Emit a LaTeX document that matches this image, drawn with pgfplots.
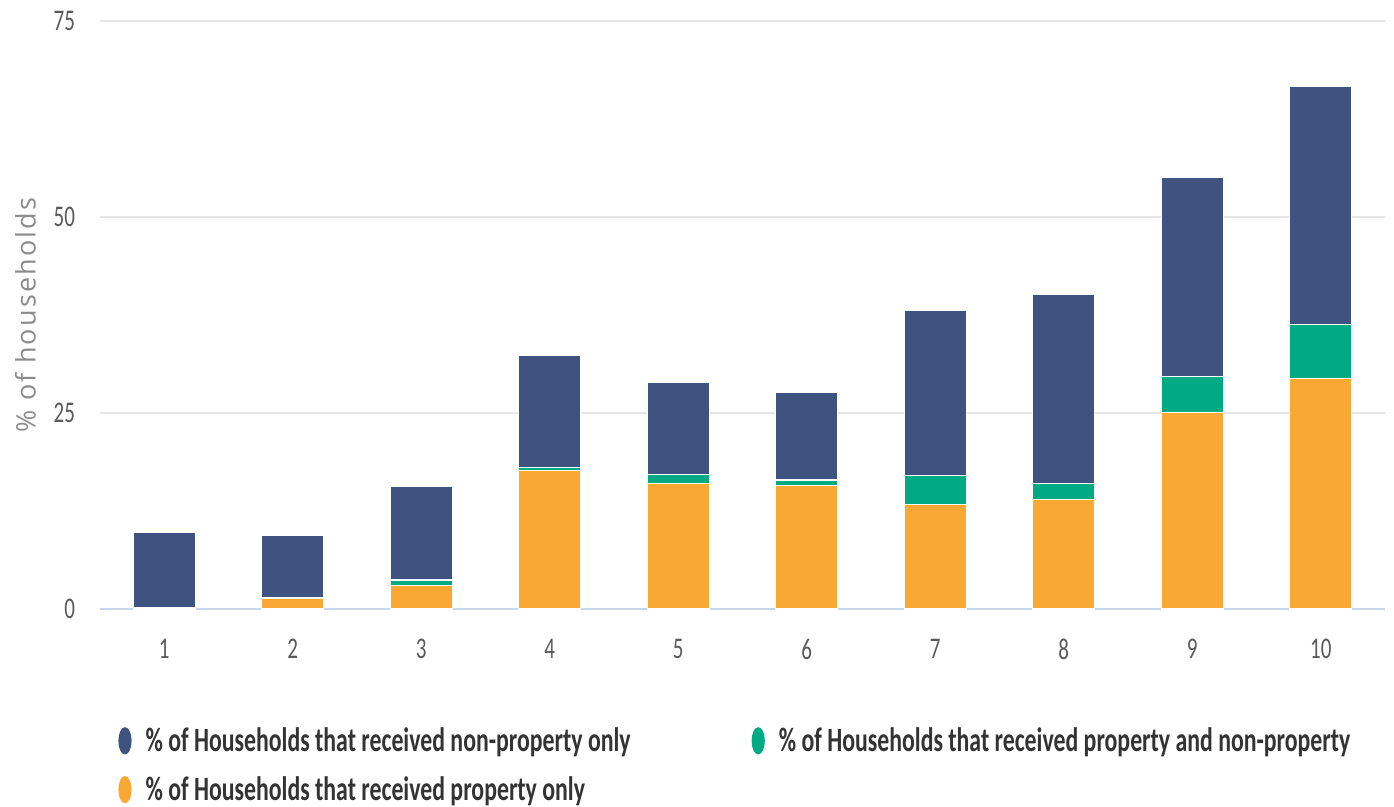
\documentclass[border=0pt]{standalone}
\usepackage{fontspec}
\usepackage{graphicx}
\usepackage{pgfplots}
\usepackage{pgfplotstable}
\pgfplotsset{compat=1.18}
\setmainfont[FakeStretch=0.70]{Carlito}
\newfontfamily\ylabfont[LetterSpace=8]{Open Sans}

\definecolor{navy}{HTML}{3F5380}
\definecolor{teal}{HTML}{00AB84}
\definecolor{amber}{HTML}{F9A833}
\definecolor{gridc}{HTML}{E6E6E6}
\definecolor{axisc}{HTML}{CCD6EB}
\definecolor{tickc}{HTML}{5A5A5A}

% decile, property only, property and non-property, non-property only
\pgfplotstableread{
x  prop  both  nonprop
1  0.2   0.0   9.55
2  1.3   0.15  8.0
3  3.0   0.7   11.9
4  17.7  0.3   14.3
5  16.0  1.2   11.7
6  15.75 0.7   11.15
7  13.3  3.7   21.1
8  14.0  2.0   24.1
9  25.1  4.6   25.4
10 29.4  6.9   30.4
}\deciles

\begin{document}
\begin{tikzpicture}
\useasboundingbox (-50pt,-99pt) rectangle (647pt,304.5pt);
\begin{axis}[
    scale only axis,
    width=642.5pt,
    height=294pt,
    clip=false,
    ybar stacked,
    bar width=31pt,
    xmin=0.5, xmax=10.5,
    ymin=0, ymax=75,
    xtick={1,...,10},
    ytick={0,25,50,75},
    ymajorgrids,
    grid style={gridc, line width=0.8pt},
    axis x line*=bottom,
    axis y line*=left,
    y axis line style={draw=none},
    x axis line style={axisc, line width=1pt, -},
    major tick length=0pt,
    tick label style={font=\fontsize{15}{18}\selectfont, text=tickc},
    /pgf/number format/assume math mode=true,
    xticklabel style={yshift=-11.5pt},
    yticklabel style={anchor=east, xshift=-9pt},
    reverse legend,
    legend columns=2,
    legend cell align=left,
    legend style={draw=none, fill=none, at={(0,0)}, anchor=north west,
        xshift=6pt, yshift=-55pt,
        font=\bfseries\fontsize{17}{20}\selectfont, text=black!80,
        /tikz/every even column/.append style={column sep=58.5pt},
        row sep=7pt},
]
\addplot+[fill=amber, draw=white, line width=0.6pt,
    legend image code/.code={\fill[amber] (3pt,0pt) ellipse (3pt and 6.5pt); \path (11pt,0pt);}]
    table[x=x, y=prop] {\deciles};
\addplot+[fill=teal, draw=white, line width=0.6pt,
    legend image code/.code={\fill[teal] (3pt,0pt) ellipse (3pt and 6.5pt); \path (11pt,0pt);}]
    table[x=x, y=both] {\deciles};
\addplot+[fill=navy, draw=white, line width=0.6pt,
    legend image code/.code={\fill[navy] (3pt,0pt) ellipse (3pt and 6.5pt); \path (11pt,0pt);}]
    table[x=x, y=nonprop] {\deciles};
\legend{\% of Households that received property only,\% of Households that received property and non-property,\% of Households that received non-property only}
\node[rotate=90, anchor=center, text=gray!90, font=\ylabfont\fontsize{13.5}{15}\selectfont]
    at (rel axis cs:-0.058,0.5) {\% of households};
\end{axis}
\end{tikzpicture}
\end{document}
